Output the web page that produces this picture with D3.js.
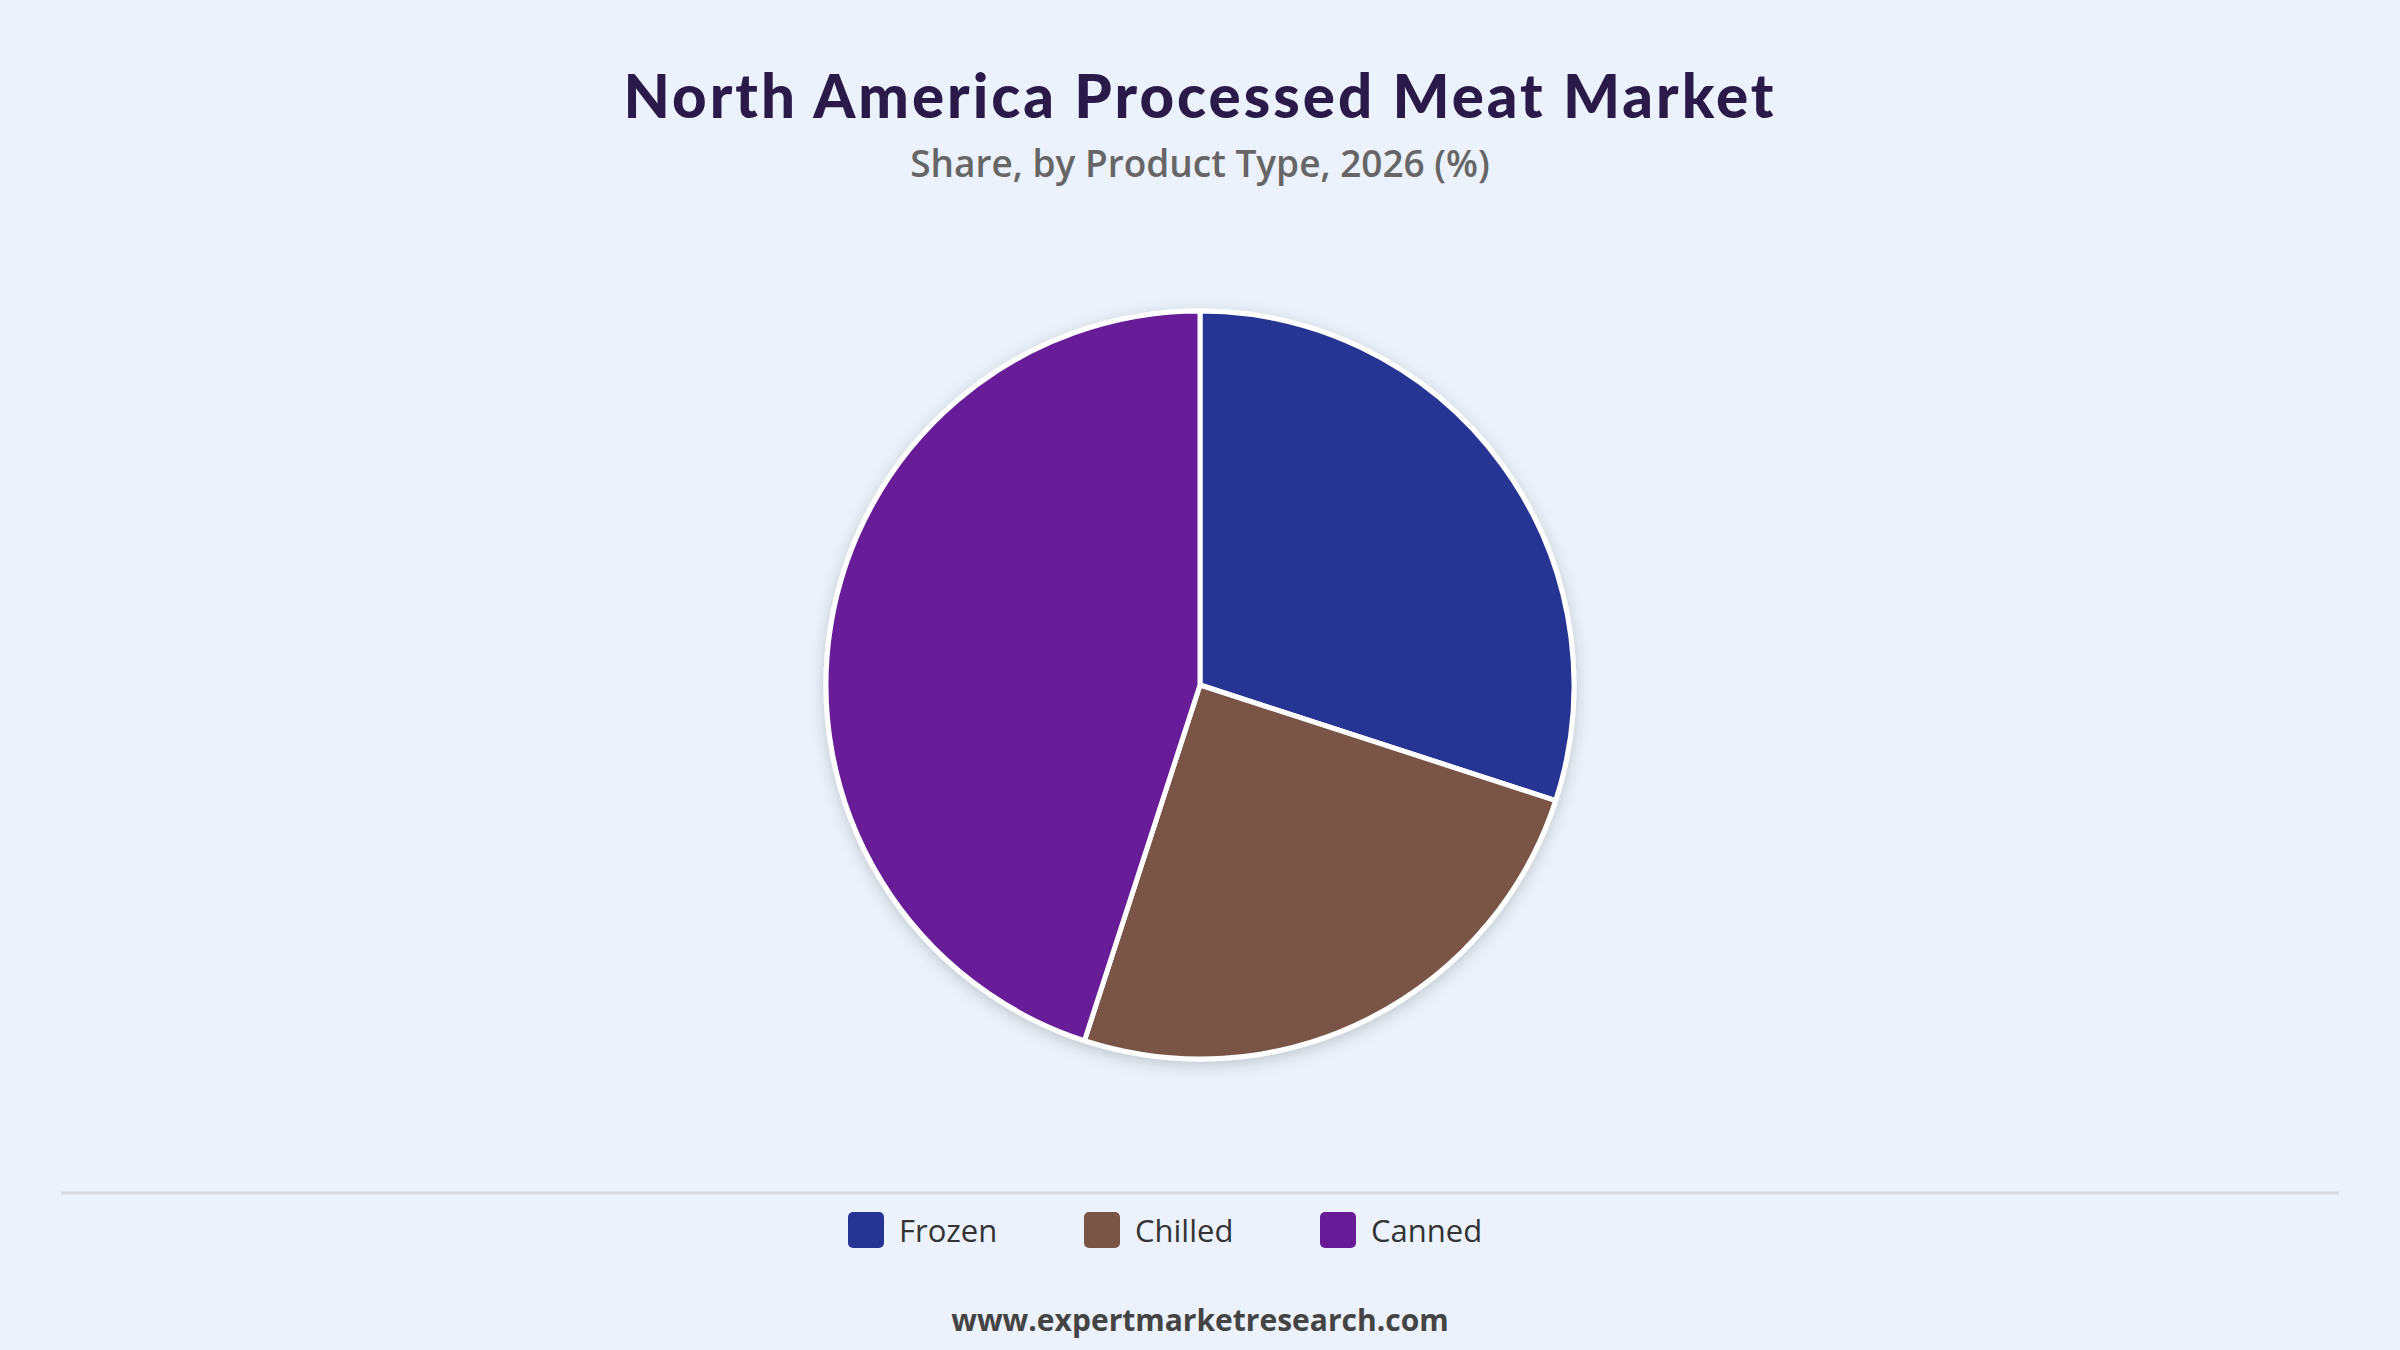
<!DOCTYPE html>
<html><head><meta charset="utf-8">
<script src="https://cdn.jsdelivr.net/npm/d3@7"></script>
<style>body{margin:0;background:#EBF2FB;}svg{display:block}</style>
</head><body>
<script>
const categories = ["Frozen", "Chilled", "Canned"];
const shares = [30, 25, 45];
const colors = ["#263593", "#7A5546", "#681B97"];

const W = 2400, H = 1350;
const svg = d3.select("body").append("svg").attr("width", W).attr("height", H);
svg.append("rect").attr("width", W).attr("height", H).attr("fill", "#EBF2FB");

const defs = svg.append("defs");
const f = defs.append("filter").attr("id","sh").attr("x","-20%").attr("y","-20%").attr("width","140%").attr("height","140%");
f.append("feDropShadow").attr("dx",0).attr("dy",4).attr("stdDeviation",8).attr("flood-color","#000").attr("flood-opacity",0.18);

svg.append("text").attr("x", W/2).attr("y", 118).attr("text-anchor","middle")
  .attr("font-family","Lato, 'Open Sans', sans-serif").attr("font-weight",900).attr("font-size",60)
  .attr("letter-spacing", 3)
  .attr("fill","#2A1A4A").text("North America Processed Meat Market");
svg.append("text").attr("x", W/2).attr("y", 177).attr("text-anchor","middle")
  .attr("font-family","'Open Sans', 'Noto Sans', sans-serif").attr("font-weight",600).attr("font-size",37)
  .attr("fill","#666").text("Share, by Product Type, 2026 (%)");

const cx = 1200, cy = 685, r = 374;
const pie = d3.pie().sort(null).value(d => d);
const arc = d3.arc().innerRadius(0).outerRadius(r);
const g = svg.append("g").attr("transform", `translate(${cx},${cy})`).attr("filter","url(#sh)");
g.selectAll("path").data(pie(shares)).join("path")
  .attr("d", arc).attr("fill", (d,i) => colors[i])
  .attr("stroke", "#fff").attr("stroke-width", 5).attr("stroke-linejoin","round");

svg.append("line").attr("x1", 61).attr("x2", 2339).attr("y1", 1193).attr("y2", 1193)
  .attr("stroke", "#D8DCE2").attr("stroke-width", 3);

const lx = [848, 1084, 1320];
const lg = svg.selectAll("g.leg").data(categories).join("g").attr("class","leg")
  .attr("transform", (d,i) => `translate(${lx[i]},1230)`);
lg.append("rect").attr("x",0).attr("y",-18).attr("width",36).attr("height",36).attr("rx",5)
  .attr("fill", (d,i) => colors[i]);
lg.append("text").attr("x",51).attr("y",12).attr("font-family","'Open Sans', 'Noto Sans', sans-serif")
  .attr("font-size",31).attr("fill","#333").text(d => d);

svg.append("text").attr("x", W/2).attr("y", 1331).attr("text-anchor","middle")
  .attr("font-family","'Open Sans', 'Noto Sans', sans-serif").attr("font-weight",700).attr("font-size",30)
  .attr("fill","#444").text("www.expertmarketresearch.com");
</script>
</body></html>
